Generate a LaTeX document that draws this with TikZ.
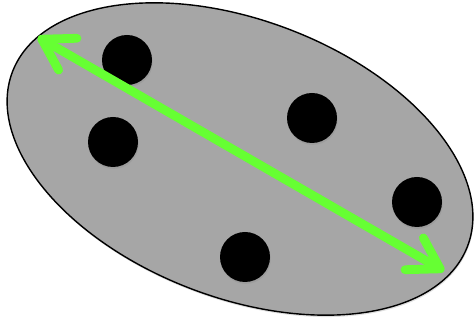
\documentclass[tikz,border=0pt]{standalone}
\usepackage{xcolor}
\usepackage{tikz}
\usetikzlibrary{shapes.geometric, arrows.meta, shadows}
\definecolor{cloudgray}{RGB}{166, 166, 166}
\definecolor{spangreen}{RGB}{102, 255, 51}

\begin{document}
\begin{tikzpicture}[x=0.03cm, y=-0.03cm,
    cluster/.style={ellipse, draw=black, fill=cloudgray, line width=1.2pt, minimum width=14.62cm, minimum height=8.32cm, inner sep=0pt, drop shadow={opacity=0.25, shadow xshift=0.6pt, shadow yshift=-1.6pt}},
    point/.style={circle, fill=black, minimum size=1.5cm, inner sep=0pt, drop shadow={opacity=0.25, shadow xshift=0.6pt, shadow yshift=-1.6pt}},
    span/.style={draw=spangreen, line width=7.5pt, line cap=round, {Straight Barb[length=9mm, width=11mm, line cap=round, line join=round]}-{Straight Barb[length=9mm, width=11mm, line cap=round, line join=round]}}]

    \useasboundingbox (0,0) rectangle (475,321);

    % Cluster
    \node[cluster, rotate=-21] (cloud) at (240,159) {};

    % Points
    \node[point] (p1) at (127,60) {};
    \node[point] (p2) at (113,142) {};
    \node[point] (p3) at (312,118) {};
    \node[point] (p4) at (417,202) {};
    \node[point] (p5) at (245,257) {};

    % Diameter
    \coordinate (far1) at (38,37);
    \coordinate (far2) at (444,271);
    \draw[span] (far1) -- (far2);
\end{tikzpicture}
\end{document}
